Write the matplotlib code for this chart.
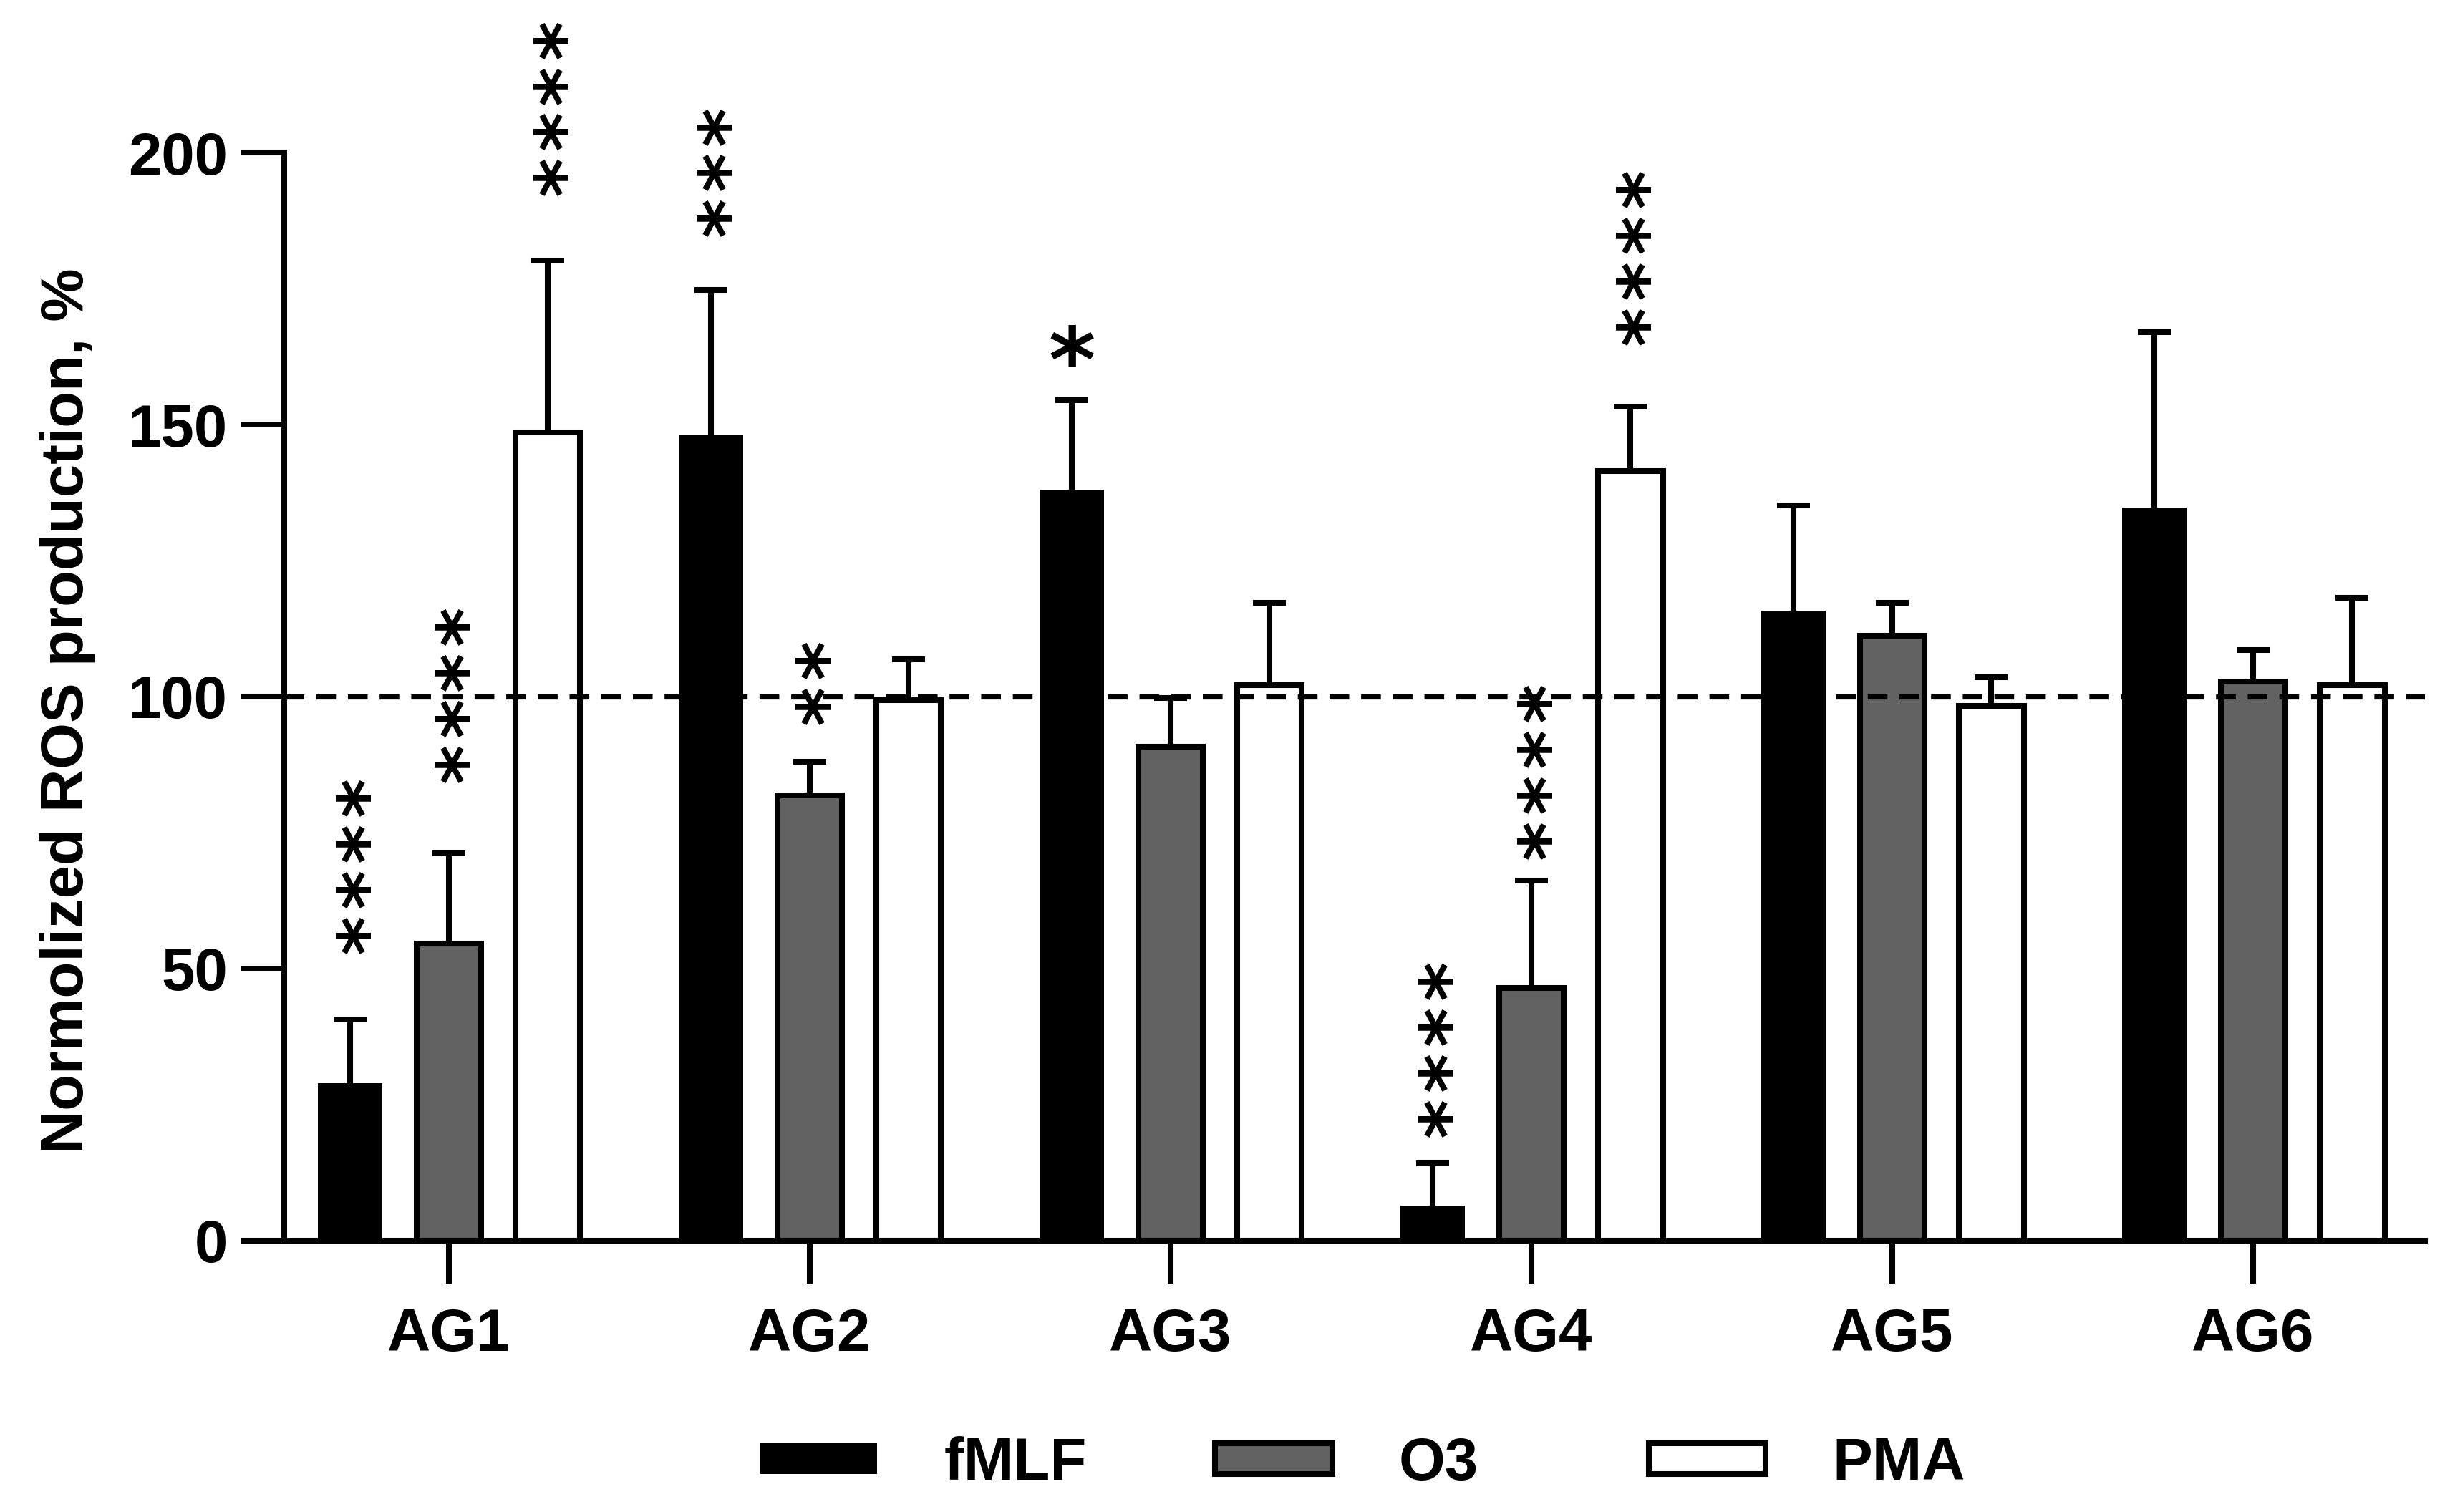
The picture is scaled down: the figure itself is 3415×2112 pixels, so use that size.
import numpy as np
import matplotlib
matplotlib.use("Agg")
import matplotlib.pyplot as plt
from matplotlib.patches import Patch

# --- data ---------------------------------------------------------------
groups = ["AG1", "AG2", "AG3", "AG4", "AG5", "AG6"]
series = ["fMLF", "O3", "PMA"]

fmlf = [29.0, 148.0, 138.0, 6.5, 115.8, 134.8]
fmlf_err = [11.6, 26.7, 16.5, 7.7, 19.4, 32.2]
o3 = [54.6, 81.9, 90.8, 46.4, 111.2, 102.7]
o3_err = [16.6, 6.1, 9.0, 19.8, 6.1, 5.9]
pma = [148.6, 99.4, 102.1, 141.4, 98.3, 102.1]
pma_err = [31.6, 7.4, 15.2, 11.9, 5.3, 16.1]

# significance marks and the level of the centre of the lowest star
fmlf_sig = ["****", "***", "*", "****", "", ""]
fmlf_sig_y = [56.4, 188.2, 164.4, 22.7, None, None]
o3_sig = ["****", "**", "", "****", "", ""]
o3_sig_y = [87.9, 98.5, None, 73.8, None, None]
pma_sig = ["****", "", "", "****", "", ""]
pma_sig_y = [195.7, None, None, 168.3, None, None]

baseline = 100

# --- style -----------------------------------------------------------------
FONT = "Liberation Sans"
STAR_FONT = "DejaVu Sans"   # six-spoke asterisk like the original
plt.rcParams["font.family"] = FONT
plt.rcParams["font.weight"] = "bold"
LW = 5.8
FS = 60
GREY = "#626262"
STAR_FS = 76        # stacked stars
STAR1_FS = 90       # lone star
STAR_STEP = 46      # points between stacked stars
STAR_MID = 0.51     # ink centre of the asterisk above baseline, in em
LEGEND_X = [0.311, 0.497, 0.6744]   # left edge of each legend entry (figure fraction)

fig = plt.figure(figsize=(34.15, 21.12), dpi=100)
ax = fig.add_axes([0.1163, 0.1795, 0.8755, 0.7196])

x = np.arange(len(groups))
off = 0.274
w = 0.18

colors = ["black", GREY, "white"]
edge_lw = [0, LW, LW]
vals = [fmlf, o3, pma]
errs = [fmlf_err, o3_err, pma_err]
sigs = [fmlf_sig, o3_sig, pma_sig]
sig_ys = [fmlf_sig_y, o3_sig_y, pma_sig_y]

for i, (v, e, c, lw) in enumerate(zip(vals, errs, colors, edge_lw)):
    xs = x + (i - 1) * off
    eb = ax.errorbar(xs, v, yerr=[np.zeros(len(v)), e], fmt="none", ecolor="black",
                     elinewidth=LW, capsize=16.5, capthick=LW, zorder=1)
    # one-sided bars: hide the cap sitting on the bar top
    eb[1][0].set_visible(False)
    ax.bar(xs, v, width=w, color=c, edgecolor="black", linewidth=lw, zorder=2)

    for xi, s, sy in zip(xs, sigs[i], sig_ys[i]):
        if not s:
            continue
        if len(s) == 1:
            ax.annotate(s, (xi, sy), xytext=(0, -STAR_MID * STAR1_FS), textcoords="offset points",
                        ha="center", va="baseline", family=STAR_FONT, fontsize=STAR1_FS,
                        fontweight="bold", annotation_clip=False, zorder=4)
            continue
        for k in range(len(s)):
            ax.annotate("*", (xi, sy), xytext=(STAR_MID * STAR_FS + 2, k * STAR_STEP),
                        textcoords="offset points", rotation=90, rotation_mode="anchor",
                        ha="center", va="baseline", family=STAR_FONT, fontsize=STAR_FS,
                        fontweight="bold", annotation_clip=False, zorder=4)

ax.axhline(baseline, color="black", lw=LW * 0.9, ls=(0, (3.8, 2.3)), zorder=3)

ax.set_xlim(-0.456, 5.476)
ax.set_ylim(0, 200)
ax.set_yticks([0, 50, 100, 150, 200])
ax.set_xticks(x)
ax.set_xticklabels(groups)

for side in ("top", "right"):
    ax.spines[side].set_visible(False)
for side in ("left", "bottom"):
    ax.spines[side].set_linewidth(LW)
ax.tick_params(axis="y", length=44, width=LW, pad=13, labelsize=FS)
ax.tick_params(axis="x", length=43, width=LW, pad=24, labelsize=FS)
for lab in ax.get_xticklabels() + ax.get_yticklabels():
    lab.set_fontweight("bold")

ax.set_ylabel("Normolized ROS production, %", fontsize=FS, fontweight="bold", labelpad=33)
ax.yaxis.label.set_y(0.487)

# one legend per entry so the uneven spacing of the original is kept
for c, lw, s, lx in zip(colors, edge_lw, series, LEGEND_X):
    fig.legend(handles=[Patch(facecolor=c, edgecolor="black", linewidth=lw, label=s)],
               loc="center left", bbox_to_anchor=(lx, 0.0317), frameon=False,
               prop={"family": FONT, "weight": "bold", "size": FS},
               borderpad=0, borderaxespad=0, handlelength=1.96, handleheight=0.41,
               handletextpad=1.12)

fig.savefig("out.png", dpi=100, facecolor="white")
